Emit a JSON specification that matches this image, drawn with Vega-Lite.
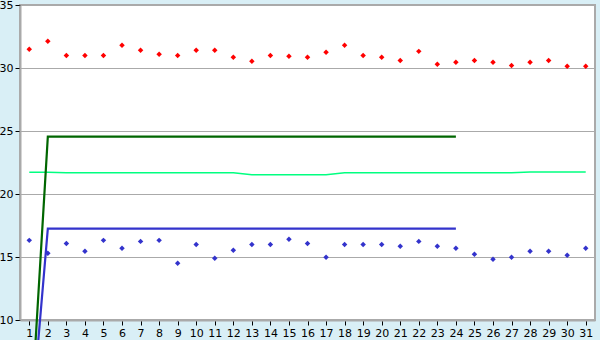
{
  "$schema": "https://vega.github.io/schema/vega-lite/v6.json",
  "width": 575,
  "height": 315,
  "autosize": {"type": "none"},
  "padding": {"left": 20, "top": 5, "right": 5, "bottom": 20},
  "background": "#D9EFF6",
  "config": {
    "view": {"fill": "white", "stroke": "#AAAAAA", "strokeWidth": 2},
    "axis": {
      "labelFont": "DejaVu Sans",
      "labelFontSize": 11,
      "labelColor": "black",
      "tickColor": "black",
      "tickSize": 5,
      "domainColor": "#AAAAAA",
      "domainWidth": 2,
      "gridColor": "#AAAAAA",
      "gridWidth": 1,
      "title": null
    }
  },
  "datasets": {
    "pts": [
      {"day": 1, "red": 31.48, "blue": 16.32},
      {"day": 2, "red": 32.12, "blue": 15.29},
      {"day": 3, "red": 31.0, "blue": 16.08},
      {"day": 4, "red": 31.0, "blue": 15.45},
      {"day": 5, "red": 31.0, "blue": 16.32},
      {"day": 6, "red": 31.8, "blue": 15.69},
      {"day": 7, "red": 31.4, "blue": 16.24},
      {"day": 8, "red": 31.1, "blue": 16.32},
      {"day": 9, "red": 31.0, "blue": 14.5},
      {"day": 10, "red": 31.4, "blue": 16.0},
      {"day": 11, "red": 31.4, "blue": 14.9},
      {"day": 12, "red": 30.85, "blue": 15.53},
      {"day": 13, "red": 30.53, "blue": 16.0},
      {"day": 14, "red": 31.0, "blue": 16.0},
      {"day": 15, "red": 30.93, "blue": 16.4},
      {"day": 16, "red": 30.85, "blue": 16.08},
      {"day": 17, "red": 31.25, "blue": 14.98},
      {"day": 18, "red": 31.8, "blue": 16.0},
      {"day": 19, "red": 31.0, "blue": 16.0},
      {"day": 20, "red": 30.85, "blue": 16.0},
      {"day": 21, "red": 30.6, "blue": 15.85},
      {"day": 22, "red": 31.32, "blue": 16.24},
      {"day": 23, "red": 30.29, "blue": 15.85},
      {"day": 24, "red": 30.45, "blue": 15.69},
      {"day": 25, "red": 30.6, "blue": 15.21},
      {"day": 26, "red": 30.45, "blue": 14.82},
      {"day": 27, "red": 30.2, "blue": 14.98},
      {"day": 28, "red": 30.45, "blue": 15.45},
      {"day": 29, "red": 30.6, "blue": 15.45},
      {"day": 30, "red": 30.13, "blue": 15.13},
      {"day": 31, "red": 30.13, "blue": 15.69}
    ],
    "limits": [
      {"day": 1, "upper": 0, "lower": 0},
      {"day": 2, "upper": 24.55, "lower": 17.25},
      {"day": 3, "upper": 24.55, "lower": 17.25},
      {"day": 4, "upper": 24.55, "lower": 17.25},
      {"day": 5, "upper": 24.55, "lower": 17.25},
      {"day": 6, "upper": 24.55, "lower": 17.25},
      {"day": 7, "upper": 24.55, "lower": 17.25},
      {"day": 8, "upper": 24.55, "lower": 17.25},
      {"day": 9, "upper": 24.55, "lower": 17.25},
      {"day": 10, "upper": 24.55, "lower": 17.25},
      {"day": 11, "upper": 24.55, "lower": 17.25},
      {"day": 12, "upper": 24.55, "lower": 17.25},
      {"day": 13, "upper": 24.55, "lower": 17.25},
      {"day": 14, "upper": 24.55, "lower": 17.25},
      {"day": 15, "upper": 24.55, "lower": 17.25},
      {"day": 16, "upper": 24.55, "lower": 17.25},
      {"day": 17, "upper": 24.55, "lower": 17.25},
      {"day": 18, "upper": 24.55, "lower": 17.25},
      {"day": 19, "upper": 24.55, "lower": 17.25},
      {"day": 20, "upper": 24.55, "lower": 17.25},
      {"day": 21, "upper": 24.55, "lower": 17.25},
      {"day": 22, "upper": 24.55, "lower": 17.25},
      {"day": 23, "upper": 24.55, "lower": 17.25},
      {"day": 24, "upper": 24.55, "lower": 17.25}
    ],
    "mid": [
      {"day": 1, "v": 21.73},
      {"day": 2, "v": 21.73},
      {"day": 3, "v": 21.68},
      {"day": 4, "v": 21.68},
      {"day": 5, "v": 21.68},
      {"day": 6, "v": 21.68},
      {"day": 7, "v": 21.68},
      {"day": 8, "v": 21.68},
      {"day": 9, "v": 21.68},
      {"day": 10, "v": 21.68},
      {"day": 11, "v": 21.68},
      {"day": 12, "v": 21.68},
      {"day": 13, "v": 21.52},
      {"day": 14, "v": 21.52},
      {"day": 15, "v": 21.52},
      {"day": 16, "v": 21.52},
      {"day": 17, "v": 21.52},
      {"day": 18, "v": 21.68},
      {"day": 19, "v": 21.68},
      {"day": 20, "v": 21.68},
      {"day": 21, "v": 21.68},
      {"day": 22, "v": 21.68},
      {"day": 23, "v": 21.68},
      {"day": 24, "v": 21.68},
      {"day": 25, "v": 21.68},
      {"day": 26, "v": 21.68},
      {"day": 27, "v": 21.68},
      {"day": 28, "v": 21.75},
      {"day": 29, "v": 21.75},
      {"day": 30, "v": 21.75},
      {"day": 31, "v": 21.75}
    ]
  },
  "encoding": {
    "x": {
      "field": "day",
      "type": "ordinal",
      "scale": {"type": "point", "padding": 0.5, "domain": [1,2,3,4,5,6,7,8,9,10,11,12,13,14,15,16,17,18,19,20,21,22,23,24,25,26,27,28,29,30,31]},
      "axis": {"labelAngle": 0, "grid": false, "labelPadding": 2}
    }
  },
  "layer": [
    {
      "data": {"name": "mid"},
      "mark": {"type": "line", "color": "#00FF80", "strokeWidth": 1.5, "clip": false},
      "encoding": {
        "y": {"field": "v", "type": "quantitative", "scale": {"domain": [10, 35], "zero": false, "nice": false}, "axis": {"values": [10, 15, 20, 25, 30, 35], "grid": true, "labelPadding": 2}}
      }
    },
    {
      "data": {"name": "limits"},
      "mark": {"type": "line", "color": "#3333CC", "strokeWidth": 2.2, "clip": false},
      "encoding": {"y": {"field": "lower", "type": "quantitative"}}
    },
    {
      "data": {"name": "limits"},
      "mark": {"type": "line", "color": "#006600", "strokeWidth": 2.2, "clip": false},
      "encoding": {"y": {"field": "upper", "type": "quantitative"}}
    },
    {
      "data": {"name": "pts"},
      "mark": {"type": "point", "shape": "diamond", "filled": true, "color": "#3333CC", "size": 30, "opacity": 1},
      "encoding": {"y": {"field": "blue", "type": "quantitative"}}
    },
    {
      "data": {"name": "pts"},
      "mark": {"type": "point", "shape": "diamond", "filled": true, "color": "#FF0000", "size": 30, "opacity": 1},
      "encoding": {"y": {"field": "red", "type": "quantitative"}}
    }
  ]
}
